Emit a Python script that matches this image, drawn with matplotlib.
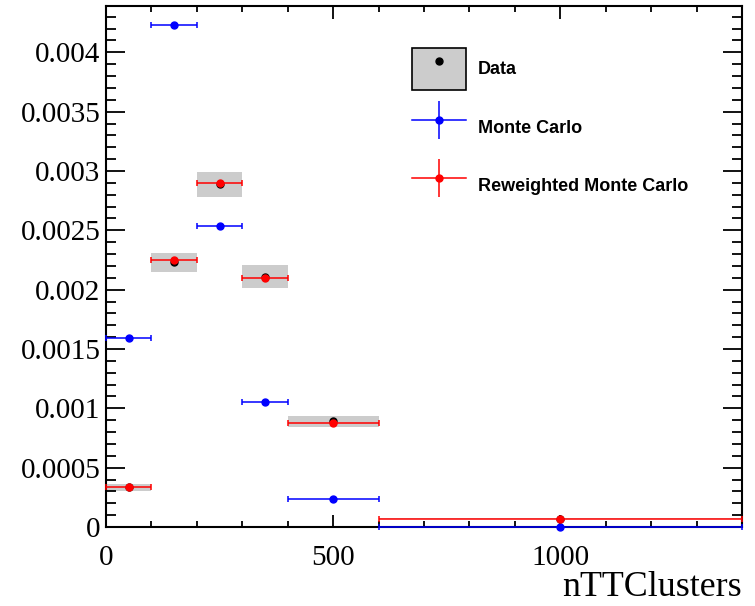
import matplotlib

matplotlib.use("Agg")

import matplotlib.pyplot as plt
import numpy as np
from matplotlib.lines import Line2D
from matplotlib.patches import Patch, Rectangle
from matplotlib.ticker import MultipleLocator

# binning of nTTClusters
bin_edges = [0, 100, 200, 300, 400, 600, 1400]

# normalised contents
data_values = [0.000335, 0.00223, 0.00289, 0.00211, 0.00089, 0.00007]
data_errors = [0.00003, 0.00008, 0.000105, 0.000095, 0.000047, 0.000004]
mc_values = [0.00159, 0.004227, 0.002536, 0.001053, 0.000238, 0.0000005]
reweighted_values = [0.000338, 0.00225, 0.002902, 0.002102, 0.000879, 0.000068]

legend_labels = ["Data", "Monte Carlo", "Reweighted Monte Carlo"]

GRAY = "#cccccc"
BLUE = "#0000ff"
RED = "#ff0000"

edges = np.array(bin_edges, dtype=float)
centers = 0.5 * (edges[:-1] + edges[1:])
half_widths = 0.5 * np.diff(edges)

fig = plt.figure(figsize=(7.55, 6.06), dpi=100)
ax = fig.add_axes([0.1404, 0.1304, 0.8424, 0.8596])

# data uncertainty boxes
for left, width, value, err in zip(edges[:-1], np.diff(edges), data_values, data_errors):
    ax.add_patch(
        Rectangle((left, value - err), width, 2 * err,
                  facecolor=GRAY, edgecolor="none", zorder=1)
    )

ax.plot(centers, data_values, "o", color="black", markersize=5, zorder=2)

ax.errorbar(centers, mc_values, xerr=half_widths, fmt="o", color=BLUE,
            markersize=5, elinewidth=1.1, capsize=2.2, capthick=1.1,
            zorder=3, clip_on=False)

ax.errorbar(centers, reweighted_values, xerr=half_widths, fmt="o", color=RED,
            markersize=5, elinewidth=1.1, capsize=2.2, capthick=1.1,
            zorder=4, clip_on=False)

ax.set_xlim(0, 1400)
ax.set_ylim(0, 0.00439)

ax.xaxis.set_major_locator(MultipleLocator(500))
ax.xaxis.set_minor_locator(MultipleLocator(100))
ax.yaxis.set_major_locator(MultipleLocator(0.0005))
ax.yaxis.set_minor_locator(MultipleLocator(0.0001))
ax.yaxis.set_major_formatter(
    plt.FuncFormatter(lambda v, _: "0" if abs(v) < 1e-12 else f"{v:.4f}".rstrip("0"))
)

ax.tick_params(axis="both", which="both", direction="in", top=True, right=True,
               labelsize=21, width=1.3)
ax.tick_params(axis="y", which="major", length=14, pad=4)
ax.tick_params(axis="y", which="minor", length=7)
ax.tick_params(axis="x", which="major", length=9, pad=13)
ax.tick_params(axis="x", which="minor", length=4.5)
for label in ax.get_xticklabels() + ax.get_yticklabels():
    label.set_fontfamily("Liberation Serif")

for spine in ax.spines.values():
    spine.set_linewidth(1.5)

ax.set_xlabel("nTTClusters", loc="right", fontsize=25.8,
              fontfamily="Liberation Serif", labelpad=0)

data_handle = (
    Patch(facecolor=GRAY, edgecolor="black", linewidth=1.2),
    Line2D([], [], marker="o", color="black", linestyle="none", markersize=5),
)
mc_handle = (
    Line2D([], [], marker="o", color=BLUE, linewidth=1.1, markersize=5),
    Line2D([], [], marker="|", color=BLUE, linestyle="none",
           markersize=27, markeredgewidth=1.1),
)
rw_handle = (
    Line2D([], [], marker="o", color=RED, linewidth=1.1, markersize=5),
    Line2D([], [], marker="|", color=RED, linestyle="none",
           markersize=27, markeredgewidth=1.1),
)

ax.legend(
    [data_handle, mc_handle, rw_handle],
    legend_labels,
    loc="upper left",
    bbox_to_anchor=(0.481, 0.919),
    frameon=False,
    borderpad=0,
    borderaxespad=0,
    numpoints=1,
    handlelength=3.0,
    handleheight=3.18,
    handletextpad=0.67,
    labelspacing=0.93,
    prop={"family": "Liberation Sans", "weight": "bold", "size": 13},
)

fig.savefig("out.png", dpi=100)
